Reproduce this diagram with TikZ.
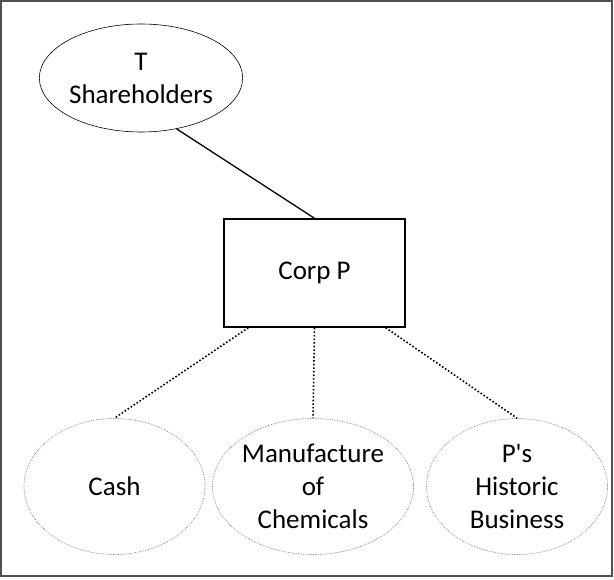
\documentclass[tikz,border=0pt]{standalone}
\usepackage{fontspec}
\setmainfont{Carlito}[Ligatures=TeXOff]
\usepackage{tikz}
\usetikzlibrary{shapes.geometric}
\definecolor{framegray}{RGB}{80,80,80}
\tikzset{
	owner/.style={ellipse, draw, line width=0.6pt, minimum width=196pt, minimum height=108pt, inner sep=0pt, align=center},
	asset/.style={ellipse, draw=gray, densely dotted, line width=0.7pt, minimum width=181pt, minimum height=136pt, inner sep=0pt, align=center},
	corpbox/.style={rectangle, draw, line width=1.4pt, minimum width=181pt, minimum height=108pt, inner sep=0pt},
	link/.style={line width=1.3pt},
	dotlink/.style={line width=1.6pt, dotted}
}
\begin{document}
\begin{tikzpicture}[x=1pt,y=-1pt,font=\fontsize{27}{33}\selectfont]
%		\draw [help lines] (0,0) grid (614,580);
		\useasboundingbox (0,0) rectangle (614,580);
		\draw [framegray, line width=2pt] (1,1) rectangle (612,576);
		\node [owner] (tsh) at (141,78) {T\\Shareholders};
		\node [corpbox] (corp) at (314.5,273) {Corp P};
		\node [asset] (cash) at (114.5,486.5) {Cash};
		\node [asset] (chem) at (313,486.5) {Manufacture\\of\\Chemicals};
		\node [asset] (hist) at (517,486.5) {P's\\Historic\\Business};
		\draw [link] (tsh.-55) -- (corp.north);
		\draw [dotlink] ([xshift=25pt]corp.south west) -- (cash.north);
		\draw [dotlink] (corp.south) -- (chem.north);
		\draw [dotlink] ([xshift=-20pt]corp.south east) -- (hist.north);
	\end{tikzpicture}
\end{document}
